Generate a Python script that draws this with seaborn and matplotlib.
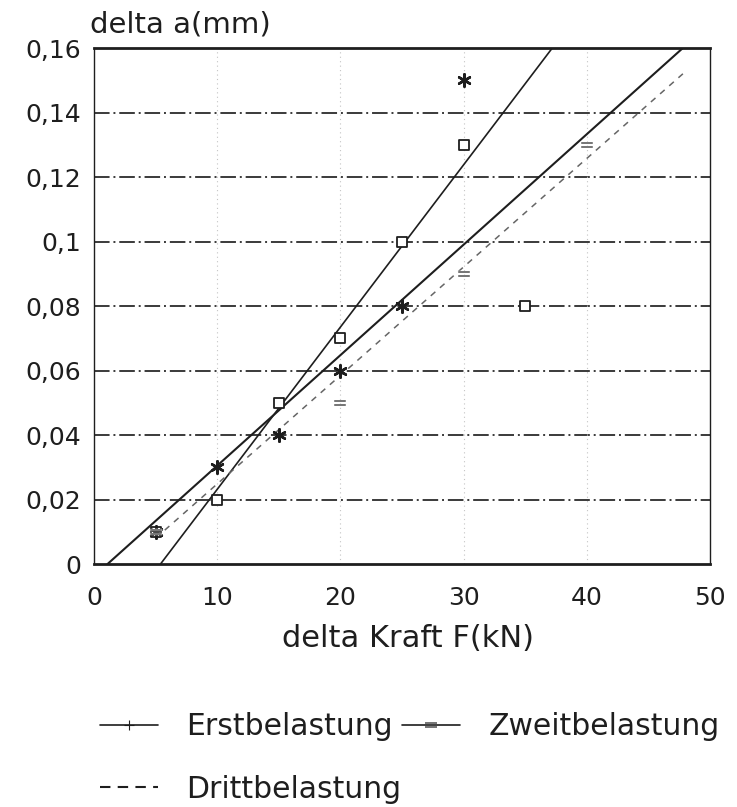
import matplotlib
matplotlib.use("Agg")
import matplotlib.pyplot as plt
import seaborn as sns
import pandas as pd
from matplotlib.lines import Line2D
from matplotlib.ticker import FixedLocator, FixedFormatter

# ---- data ----
erst_x = [5, 10, 15, 20, 25, 30]
erst_y = [0.010, 0.030, 0.040, 0.060, 0.080, 0.150]
zweit_x = [5, 10, 15, 20, 25, 30, 35]
zweit_y = [0.010, 0.020, 0.050, 0.070, 0.100, 0.130, 0.080]
dritt_x = [5, 20, 30, 40]
dritt_y = [0.010, 0.050, 0.090, 0.130]

# fitted straight lines (end points)
erst_fit_x = [1.1, 47.8]
erst_fit_y = [0.0, 0.160]
zweit_fit_x = [5.4, 37.2]
zweit_fit_y = [0.0, 0.160]
dritt_fit_x = [5.0, 47.8]
dritt_fit_y = [0.008, 0.152]

x_ticks = [0, 10, 20, 30, 40, 50]
y_ticks = [0, 0.02, 0.04, 0.06, 0.08, 0.10, 0.12, 0.14, 0.16]
y_tick_labels = ["0", "0,02", "0,04", "0,06", "0,08", "0,1", "0,12", "0,14", "0,16"]
x_label = "delta Kraft F(kN)"
y_label = "delta a(mm)"
series_names = ["Erstbelastung", "Zweitbelastung", "Drittbelastung"]

sns.set_theme(style="white")
plt.rcParams["font.family"] = ["DejaVu Sans"]
ink = "#1e1e1e"
W, H = 737, 807

fig = plt.figure(figsize=(W / 100, H / 100), dpi=100)
ax = fig.add_axes([94 / W, 1 - 564 / H, (710 - 94) / W, (564 - 48) / H])

# grid lines
for yv in y_ticks[1:-1]:
    ax.axhline(yv, color="#3a3a3a", lw=1.4, ls=(0, (8, 2, 1, 2)), zorder=0)
for xv in x_ticks[1:-1]:
    ax.axvline(xv, color="#c4c4c4", lw=0.8, ls=(0, (1, 3)), zorder=0)

fits = pd.DataFrame({
    "x": erst_fit_x + zweit_fit_x + dritt_fit_x,
    "y": erst_fit_y + zweit_fit_y + dritt_fit_y,
    "s": [series_names[0]] * 2 + [series_names[1]] * 2 + [series_names[2]] * 2,
})
sns.lineplot(data=fits[fits.s == series_names[0]], x="x", y="y", ax=ax,
             color=ink, lw=1.5, estimator=None, sort=False, legend=False)
sns.lineplot(data=fits[fits.s == series_names[1]], x="x", y="y", ax=ax,
             color=ink, lw=1.2, estimator=None, sort=False, legend=False)
sns.lineplot(data=fits[fits.s == series_names[2]], x="x", y="y", ax=ax,
             color="#666666", lw=1.1, ls=(0, (4, 4)), estimator=None, sort=False, legend=False)

pts_e = pd.DataFrame({"x": erst_x, "y": erst_y})
pts_z = pd.DataFrame({"x": zweit_x, "y": zweit_y})
pts_d = pd.DataFrame({"x": dritt_x, "y": dritt_y})
sns.scatterplot(data=pts_z, x="x", y="y", ax=ax, marker="s", s=60,
                facecolor="white", edgecolor=ink, linewidth=1.3, zorder=4)
sns.scatterplot(data=pts_e, x="x", y="y", ax=ax, marker=(6, 2, 0), s=80,
                color=ink, linewidth=1.8, zorder=5)
sns.scatterplot(data=pts_d, x="x", y="y", ax=ax, marker="$=$", s=70,
                color="#555555", linewidth=0.3, zorder=5)

ax.set_xlim(0, 50)
ax.set_ylim(0, 0.16)
ax.xaxis.set_major_locator(FixedLocator(x_ticks))
ax.yaxis.set_major_locator(FixedLocator(y_ticks))
ax.yaxis.set_major_formatter(FixedFormatter(y_tick_labels))
ax.tick_params(axis="both", length=0, labelsize=18, labelcolor=ink)
ax.tick_params(axis="x", pad=16)
ax.tick_params(axis="y", pad=9)
ax.set_xlabel("")
ax.set_ylabel("")
ax.grid(False)

for side, lw in [("top", 2.0), ("bottom", 2.0), ("left", 1.0), ("right", 1.0)]:
    ax.spines[side].set_visible(True)
    ax.spines[side].set_color(ink)
    ax.spines[side].set_linewidth(lw)

fig.text(90 / W, 1 - 33 / H, y_label, fontsize=21, color=ink, va="baseline", ha="left")
fig.text(408 / W, 1 - 647 / H, x_label, fontsize=22, color=ink, va="baseline", ha="center")

handles = [
    Line2D([], [], color=ink, lw=1.2, marker="+", ms=7, mew=0.8),
    Line2D([], [], color=ink, lw=1.5, ls=(0, (5, 3.5))),
    Line2D([], [], color=ink, lw=1.2, marker="$=$", ms=8, mew=0, mfc="#777777", mec="#777777"),
]
labels = [series_names[0], series_names[2], series_names[1]]
fig.legend(handles, labels, ncol=2, loc="upper left", bbox_to_anchor=(100 / W, 1 - 712 / H),
           frameon=False, fontsize=21.5, handlelength=1.95, handletextpad=0.95,
           columnspacing=0.0, labelspacing=1.13, labelcolor=ink,
           borderpad=0, borderaxespad=0)

fig.savefig("out.png", dpi=100, facecolor="white")
